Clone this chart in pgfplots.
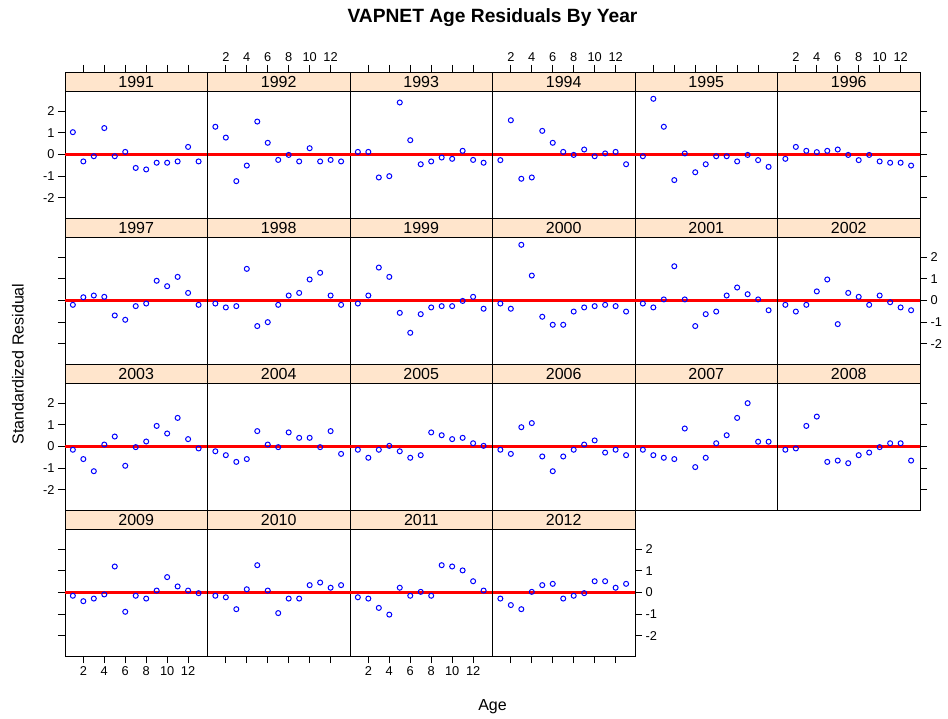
\documentclass[border=0pt]{standalone}
\usepackage{fontspec}
\setmainfont{Liberation Sans}
\usepackage{pgfplots}
\pgfplotsset{compat=1.18}
\usepackage{pgfplotstable}
\definecolor{stripbg}{HTML}{FFE5CC}

% standardized residuals by age (rows) and year (columns)
\pgfplotstableread{
age y1991 y1992 y1993 y1994 y1995 y1996 y1997 y1998 y1999 y2000 y2001 y2002 y2003 y2004 y2005 y2006 y2007 y2008 y2009 y2010 y2011 y2012
1  1.03  1.28  0.12 -0.26 -0.08 -0.20 -0.20 -0.14 -0.14 -0.14 -0.14 -0.20 -0.15 -0.22 -0.15 -0.15 -0.15 -0.15 -0.15 -0.15 -0.22 -0.28
2 -0.32  0.78  0.12  1.58  2.57  0.35  0.15 -0.32  0.23 -0.38 -0.32 -0.51 -0.58 -0.40 -0.52 -0.34 -0.40 -0.09 -0.40 -0.22 -0.28 -0.58
3 -0.08 -1.23 -1.06 -1.12  1.28  0.17  0.23 -0.26  1.52  2.57  0.05 -0.20 -1.14 -0.71 -0.15  0.89 -0.52  0.95 -0.28 -0.77 -0.71 -0.77
4  1.22 -0.51 -1.00 -1.06 -1.18  0.11  0.17  1.46  1.09  1.15  1.58  0.42  0.09 -0.58  0.03  1.08 -0.58  1.38 -0.09  0.15 -1.02  0.03
5 -0.08  1.52  2.40  1.09  0.05  0.17 -0.69 -1.18 -0.57 -0.75  0.05  0.97  0.46  0.71 -0.22 -0.46  0.83 -0.71  1.20  1.26  0.22  0.34
6  0.12  0.54  0.66  0.54 -0.82  0.23 -0.89 -1.00 -1.49 -1.12 -1.18 -1.09 -0.89  0.09 -0.52 -1.14 -0.95 -0.65 -0.89  0.09 -0.15  0.40
7 -0.62 -0.25 -0.45  0.12 -0.45 -0.02 -0.26 -0.20 -0.63 -1.12 -0.63  0.35 -0.03 -0.03 -0.40 -0.46 -0.52 -0.77 -0.15 -0.95  0.03 -0.28
8 -0.69 -0.02 -0.32 -0.02 -0.08 -0.26 -0.14  0.23 -0.32 -0.51 -0.51  0.17  0.23  0.65  0.65 -0.15  0.15 -0.40 -0.28 -0.28 -0.15 -0.15
9 -0.38 -0.32 -0.14  0.23 -0.08 -0.02  0.91  0.35 -0.26 -0.32  0.23 -0.20  0.95  0.40  0.52  0.09  0.52 -0.28  0.09 -0.28  1.26 -0.03
10 -0.38  0.29 -0.20 -0.08 -0.32 -0.32  0.66  0.97 -0.26 -0.26  0.60  0.23  0.60  0.40  0.34  0.28  1.32 -0.03  0.71  0.34  1.20  0.52
11 -0.32 -0.32  0.17  0.05 -0.02 -0.38  1.09  1.28 -0.02 -0.20  0.29 -0.08  1.32 -0.03  0.40 -0.28  2.00  0.15  0.28  0.46  1.02  0.52
12  0.35 -0.25 -0.25  0.12 -0.26 -0.38  0.35  0.23  0.17 -0.26  0.05 -0.32  0.34  0.71  0.15 -0.15  0.22  0.15  0.09  0.22  0.52  0.22
13 -0.32 -0.32 -0.38 -0.45 -0.57 -0.51 -0.20 -0.20 -0.38 -0.51 -0.45 -0.45 -0.09 -0.34  0.03 -0.40  0.22 -0.65 -0.03  0.34  0.09  0.40
}\resid

\newcommand{\tickfont}{\fontsize{12.8}{14}\selectfont}
\newcommand{\stripfont}{\fontsize{16}{18}\selectfont}

\pgfplotsset{
  panel/.style={scale only axis,width=142.5pt,height=146pt,anchor=north west,
    xmin=0.25,xmax=13.85,ymin=-2.93,ymax=3.8067,
    xtick={2,4,...,12},ytick={-2,-1,0,1,2},
    tick align=outside,major tick length=7pt,
    axis line style={line width=0.9pt},
    every tick/.style={black,line width=0.9pt},
    ticklabel style={font=\tickfont}},
  xT/.style={xtick pos=right,xticklabels={}},
  xTL/.style={xtick pos=right,xticklabel pos=right,xticklabels={2,4,6,8,10,12}},
  xB/.style={xtick pos=left,xticklabels={}},
  xBL/.style={xtick pos=left,xticklabel pos=left,xticklabels={2,4,6,8,10,12}},
  xN/.style={xtick=\empty},
  yL/.style={ytick pos=left,yticklabels={}},
  yLL/.style={ytick pos=left,yticklabel pos=left,yticklabels={-2,-1,0,1,2}},
  yR/.style={ytick pos=right,yticklabels={}},
  yRL/.style={ytick pos=right,yticklabel pos=right,yticklabels={-2,-1,0,1,2}},
  yN/.style={ytick=\empty},
}

% #1 column, #2 row, #3 year, #4 axis options
\newcommand{\panel}[4]{%
  \begin{axis}[panel,at={(#1*142.5pt,-#2*146pt)},#4]
    \addplot[red,line width=2.6pt] coordinates {(0.25,0) (13.85,0)};
    \addplot[only marks,mark=o,mark size=2.5pt,blue,line width=1pt] table[x=age,y=y#3] {\resid};
    \filldraw[fill=stripbg,draw=black,line width=0.9pt] (rel axis cs:0,0.86986) rectangle (rel axis cs:1,1);
    \node[font=\stripfont] at (rel axis cs:0.5,0.93493) {#3};
  \end{axis}}

\begin{document}
\begin{tikzpicture}
\path[use as bounding box] (-65pt,72pt) rectangle (883pt,-647pt);

\panel{0}{0}{1991}{xT,yLL}
\panel{1}{0}{1992}{xTL,yN}
\panel{2}{0}{1993}{xT,yN}
\panel{3}{0}{1994}{xTL,yN}
\panel{4}{0}{1995}{xT,yN}
\panel{5}{0}{1996}{xTL,yR}

\panel{0}{1}{1997}{xN,yL}
\panel{1}{1}{1998}{xN,yN}
\panel{2}{1}{1999}{xN,yN}
\panel{3}{1}{2000}{xN,yN}
\panel{4}{1}{2001}{xN,yN}
\panel{5}{1}{2002}{xN,yRL}

\panel{0}{2}{2003}{xN,yLL}
\panel{1}{2}{2004}{xN,yN}
\panel{2}{2}{2005}{xN,yN}
\panel{3}{2}{2006}{xN,yN}
\panel{4}{2}{2007}{xN,yN}
\panel{5}{2}{2008}{xN,yR}

\panel{0}{3}{2009}{xBL,yL}
\panel{1}{3}{2010}{xB,yN}
\panel{2}{3}{2011}{xBL,yN}
\panel{3}{3}{2012}{xB,yRL}

\node[font=\bfseries\fontsize{19.2}{22}\selectfont] at (427.5pt,54pt) {VAPNET Age Residuals By Year};
\node[font=\fontsize{16}{18}\selectfont] at (427.5pt,-635pt) {Age};
\node[font=\fontsize{16}{18}\selectfont,rotate=90] at (-47pt,-292pt) {Standardized Residual};
\end{tikzpicture}
\end{document}
